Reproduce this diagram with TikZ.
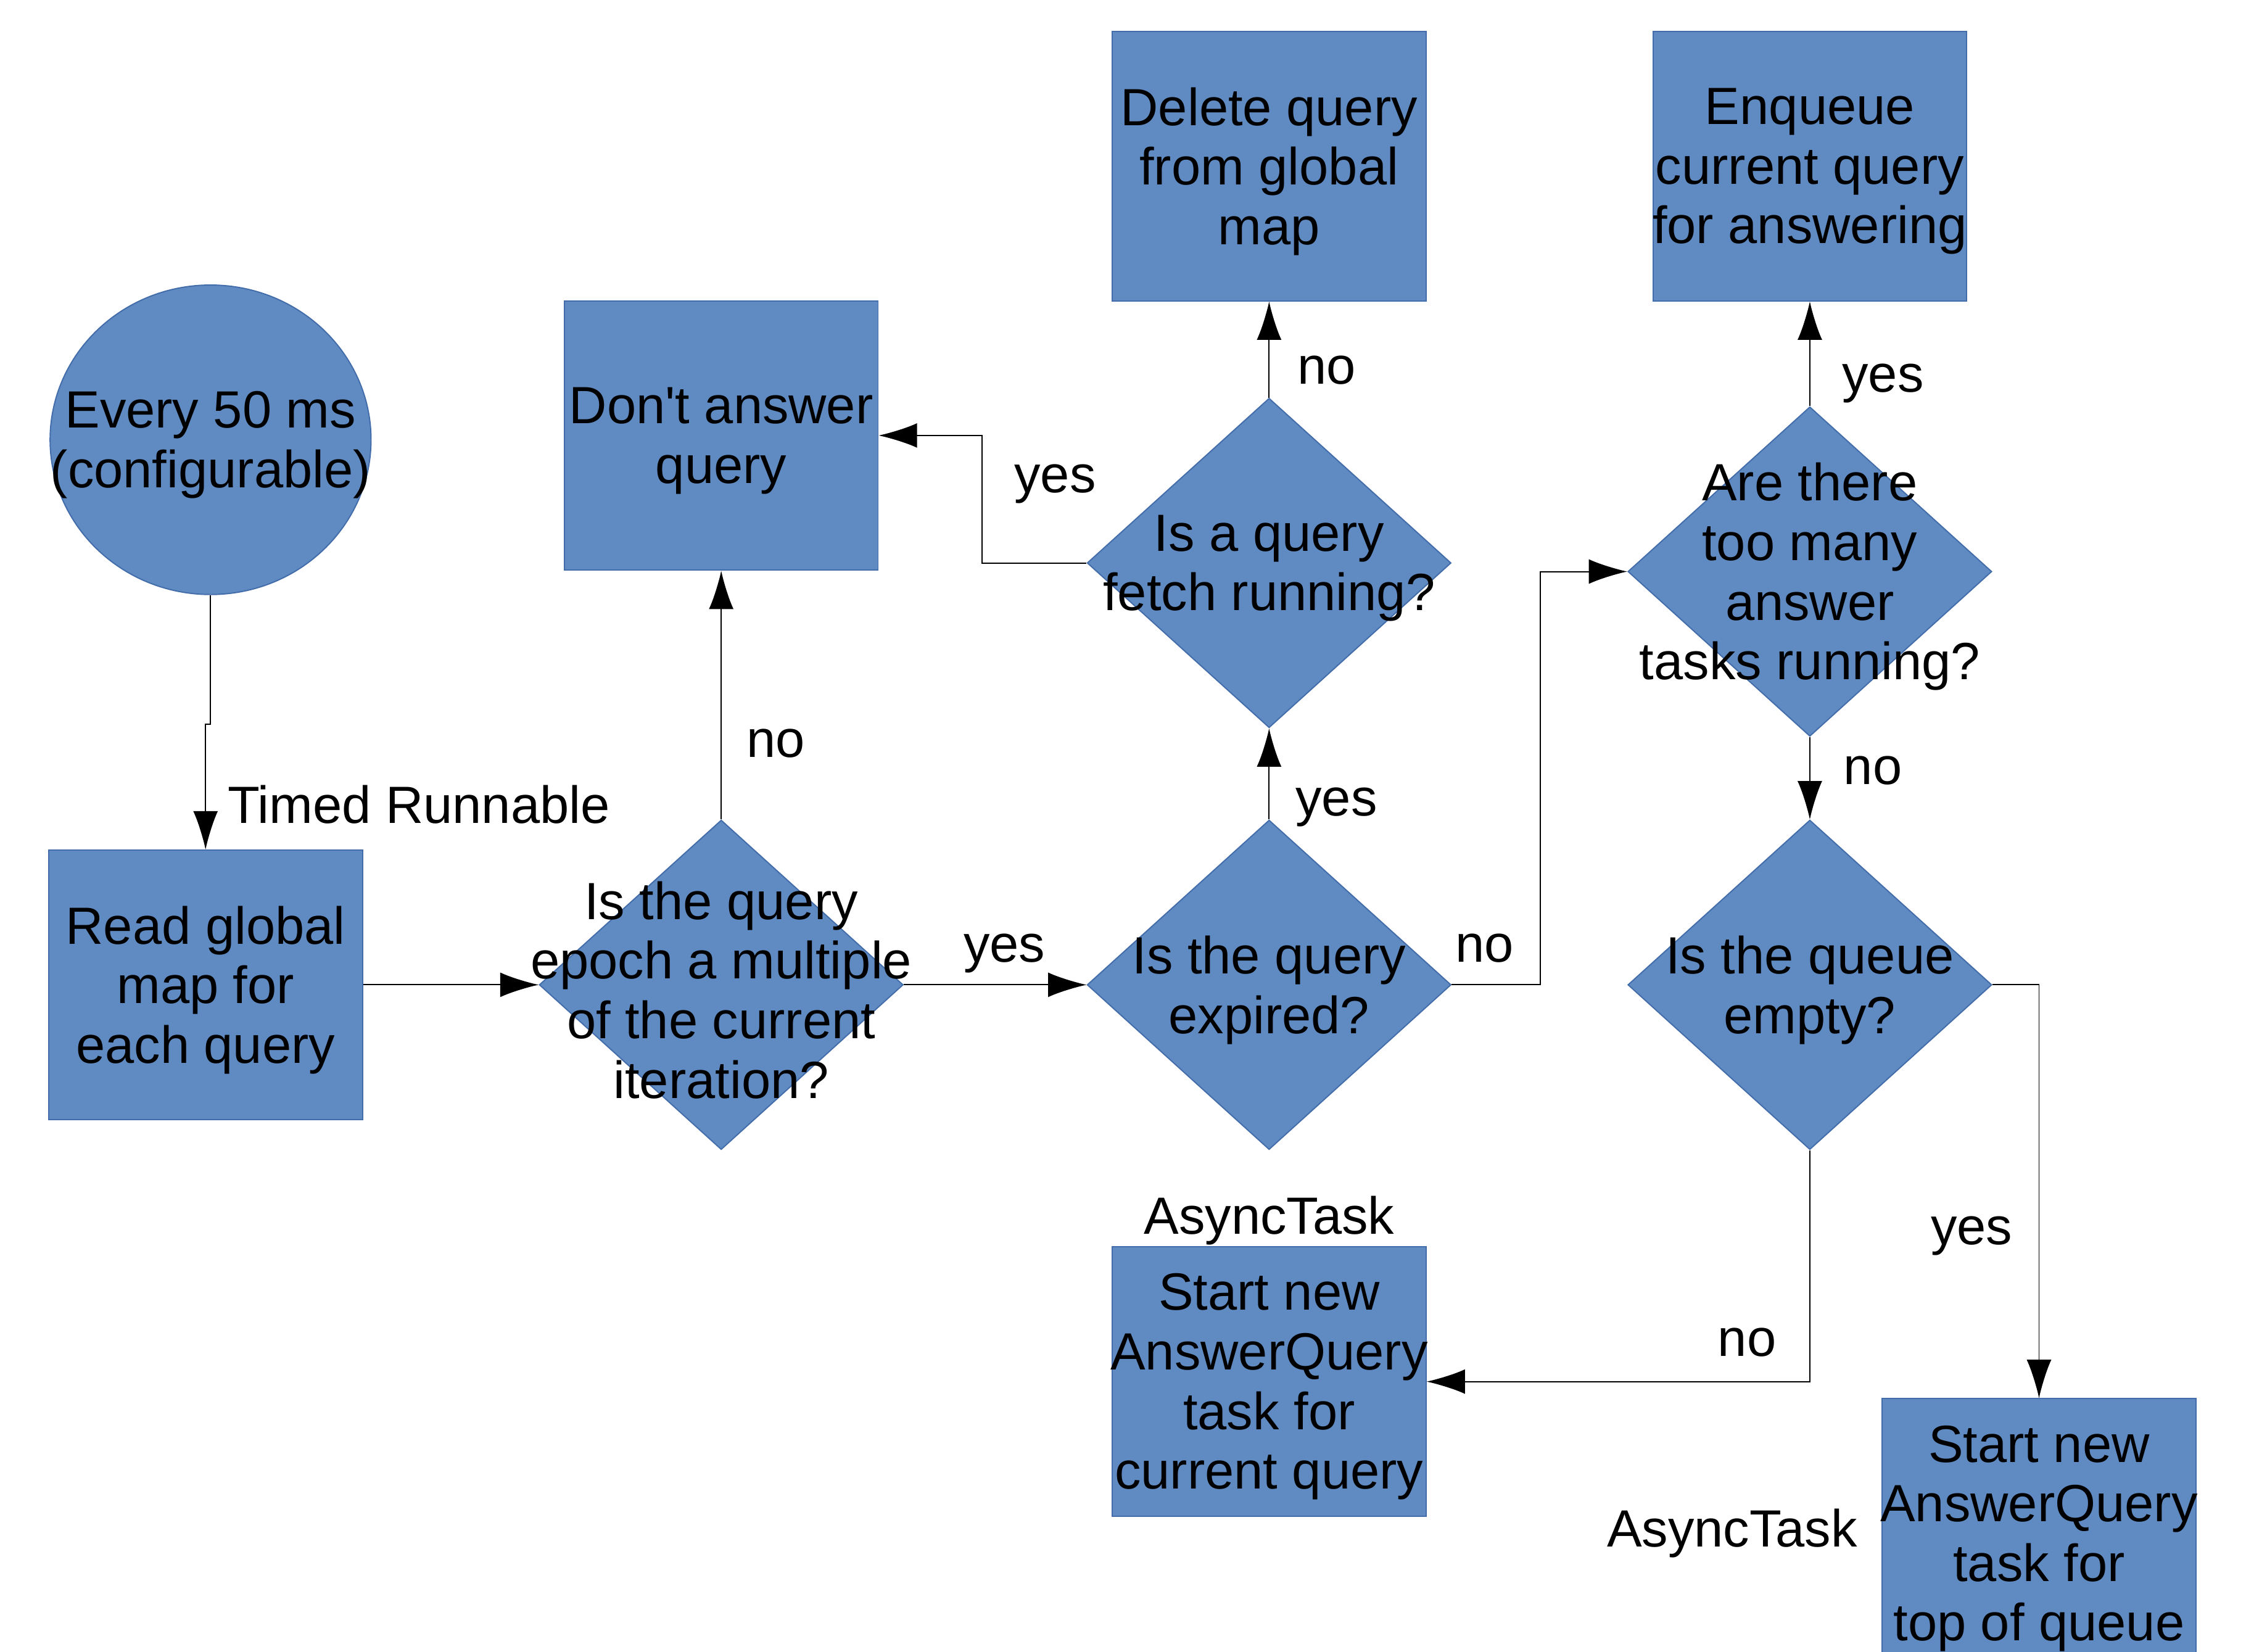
\documentclass[tikz,border=0pt]{standalone}
\usepackage{fontspec}
\setmainfont{Liberation Sans}[Ligatures=TeXOff]
\usepackage{tikz}
\usetikzlibrary{shapes.geometric, arrows.meta}
\definecolor{boxfill}{RGB}{96,139,194}
\definecolor{boxline}{RGB}{66,108,170}
\tikzstyle{startstop}=[draw=boxline,ellipse,fill=boxfill,minimum width=5.6cm,minimum height=5.4cm,inner sep=0pt,line width=0.6pt]
\tikzstyle{process}=[rectangle,draw=boxline,fill=boxfill,minimum width=5.475cm,minimum height=4.7cm,inner sep=0pt,line width=0.6pt]
\tikzstyle{decision}=[diamond,draw=boxline,fill=boxfill,minimum width=6.35cm,minimum height=5.75cm,inner sep=0pt,line width=0.6pt]
\tikzstyle{arrow}=[draw,line width=0.6pt,-{Latex[length=6.7mm,width=4.3mm]}]
\tikzstyle{txt}=[align=center,yshift=-0.9mm]
\tikzstyle{lbl}=[inner sep=0pt]

\begin{document}
\begin{tikzpicture}[x=0.025cm, y=-0.025cm, font=\fontsize{26}{29.6}\selectfont]
		\useasboundingbox (0,0) rectangle (1568,1153);
		
		\node (start) [startstop, label={[txt]center:Every 50 ms\\(configurable)}] at (147,307) {};
		\node (read) [process, label={[txt]center:Read global\\map for\\each query}] at (143.5,687.5) {};
		\node (epoch) [decision, label={[txt]center:Is the query\\epoch a multiple\\of the current\\iteration?}] at (503.5,687.5) {};
		\node (dontans) [process, label={[txt]center:Don't answer\\query}] at (503.5,304) {};
		\node (expired) [decision, label={[txt]center:Is the query\\expired?}] at (886,687.5) {};
		\node (fetch) [decision, label={[txt]center:Is a query\\fetch running?}] at (886,393) {};
		\node (delete) [process, label={[txt]center:Delete query\\from global\\map}] at (886,116) {};
		\node (toomany) [decision, label={[txt]center:Are there\\too many\\answer\\tasks running?}] at (1263.5,399) {};
		\node (enqueue) [process, label={[txt]center:Enqueue\\current query\\for answering}] at (1263.5,116) {};
		\node (empty) [decision, label={[txt]center:Is the queue\\empty?}] at (1263.5,687.5) {};
		\node (startcur) [process, label={[txt]center:Start new\\AnswerQuery\\task for\\current query}, label={[label distance=-1mm]above:AsyncTask}] at (886,964.5) {};
		\node (starttop) [process, label={[txt]center:Start new\\AnswerQuery\\task for\\top of queue}, label={[label distance=3mm]left:AsyncTask}] at (1423.5,1070.5) {};
		
		\draw[arrow] (start.south) -- ++(0,90) -| node[lbl, pos=0.82, anchor=west, xshift=3.75mm]{Timed Runnable} (read.north);
		\draw[arrow] (read.east) -- (epoch.west);
		\draw[arrow] (epoch.north) -- node[lbl, pos=0.32, xshift=9.5mm, yshift=-0.6mm]{no} (dontans.south);
		\draw[arrow] (epoch.east) -- node[lbl, pos=0.55, yshift=5.5mm]{yes} (expired.west);
		\draw[arrow] (expired.north) -- node[lbl, pos=0.23, xshift=11.75mm, yshift=-1.5mm]{yes} (fetch.south);
		\draw[arrow] (fetch.west) -- node[lbl, pos=0.3, yshift=13.75mm]{yes} ++(-73,0) |- (dontans.east);
		\draw[arrow] (fetch.north) -- node[lbl, pos=0.32, xshift=10mm, yshift=-0.6mm]{no} (delete.south);
		\draw[arrow] (expired.east) -- node[lbl, pos=0.37, yshift=6.4mm]{no} ++(62,0) |- (toomany.west);
		\draw[arrow] (toomany.north) -- node[lbl, pos=0.3, xshift=12.75mm, yshift=-1.5mm]{yes} (enqueue.south);
		\draw[arrow] (toomany.south) -- node[lbl, pos=0.36, xshift=11mm, yshift=-0.7mm]{no} (empty.north);
		\draw[arrow] (empty.south) |- node[lbl, pos=0.582, yshift=6.8mm]{no} (startcur.east);
		\draw[arrow] (empty.east) -| node[lbl, pos=0.793, xshift=-11.75mm, yshift=-1.6mm]{yes} (starttop.north);
		
\end{tikzpicture}
\end{document}
